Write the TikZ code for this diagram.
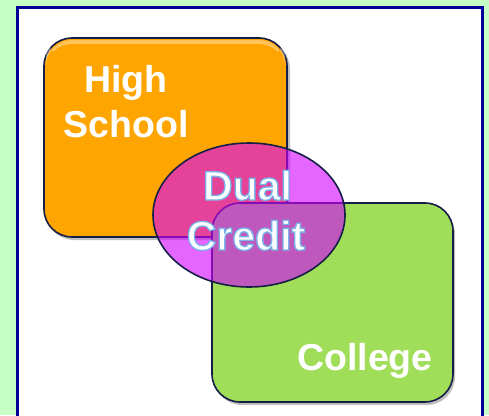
\documentclass[tikz,border=0pt]{standalone}
\usepackage{fontspec}
\setmainfont{Liberation Sans}
\definecolor{bggreen}{RGB}{198,255,198}
\definecolor{framebl}{RGB}{0,0,150}
\definecolor{hsorange}{RGB}{255,165,0}
\definecolor{colgreen}{RGB}{160,222,90}
\definecolor{dualmag}{RGB}{212,0,255}
\definecolor{edgenavy}{RGB}{20,30,70}
\newcommand{\outlinedtxt}[1]{\special{pdf:code 2 Tr 1.3 w 0.47 0.7 0.92 RG}#1\special{pdf:code 0 Tr}}
\tikzset{
  boxshape/.style={draw=edgenavy, line width=1.6pt, rounded corners=28pt},
  shadowshape/.style={fill=black, opacity=0.25, rounded corners=28pt},
  bigtext/.style={text=white, font=\bfseries\fontsize{37.5}{40}\selectfont, inner sep=0pt, anchor=base},
  dualtext/.style={text=white, font=\bfseries\fontsize{41}{44}\selectfont, inner sep=0pt, anchor=base},
}
\begin{document}
\begin{tikzpicture}[x=1pt,y=-1pt]
\useasboundingbox (0,0) rectangle (489,415);
\fill[bggreen] (0,0) rectangle (489,415);
\draw[framebl, line width=3pt, fill=white] (17,7) rectangle (482.5,425);
% shadows
\fill[shadowshape] (46,41) rectangle (290,240);
\fill[shadowshape] (214,206) rectangle (455,405);
% high school box
\draw[boxshape, fill=hsorange] (44,38) rectangle (287,237);
\fill[white, opacity=0.35, rounded corners=26pt] (46,40) rectangle (285,60);
\fill[hsorange, rounded corners=26pt] (46,44) rectangle (285,235);
% college box
\draw[boxshape, fill=colgreen] (212,203) rectangle (453,402);
% dual credit ellipse
\draw[edgenavy, line width=1.6pt, fill=dualmag, fill opacity=0.6] (249,215) ellipse (96pt and 72pt);
% texts
\node[bigtext] (high) at (126,92) {High};
\node[bigtext] (school) at (126,137) {School};
\node[bigtext] (college) at (365,370) {College};
\node[dualtext] (dual) at (247.5,200) {\outlinedtxt{Dual}};
\node[dualtext] (credit) at (246,250) {\outlinedtxt{Credit}};
\end{tikzpicture}
\end{document}
